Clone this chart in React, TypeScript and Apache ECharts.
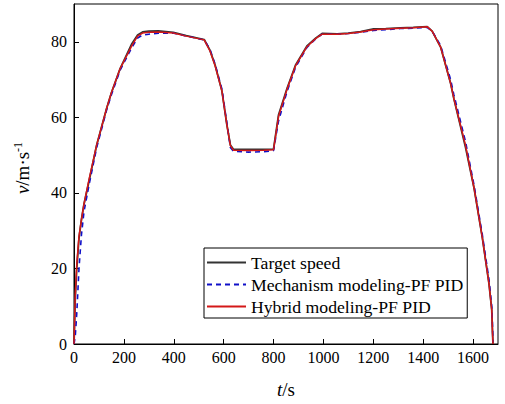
import React, { useEffect, useRef } from "react";
import * as echarts from "echarts";

const times = [0, 5, 11, 20, 30, 40, 60, 91, 131, 150, 185, 232, 255, 275, 300, 338, 398, 450, 522, 545, 566, 593, 613, 627, 640, 700, 760, 800, 820, 854, 888, 934, 970, 995, 1055, 1100, 1149, 1201, 1250, 1309, 1360, 1416, 1436, 1470, 1510, 1523, 1570, 1604, 1637, 1664, 1675, 1678, 1680];

const targetSpeed = [0, 12, 20, 28, 33, 37, 43, 52.7, 62.4, 66.5, 72.9, 79.5, 81.8, 82.6, 82.8, 82.9, 82.5, 81.6, 80.6, 77.8, 73.8, 67, 58, 52.7, 51.5, 51.5, 51.5, 51.6, 60.6, 67.6, 73.8, 78.9, 81, 82.2, 82.1, 82.3, 82.7, 83.4, 83.5, 83.7, 83.8, 84.0, 82.8, 78.6, 69, 65, 52, 41.3, 28.2, 15.9, 9, 3, 0];

const mechanismPid = [0, 2, 8, 20, 29, 35, 42, 52, 62, 66, 72.5, 78.5, 81, 81.8, 82.0, 82.3, 82.3, 81.5, 80.5, 78, 74, 67.5, 58.5, 52, 51, 50.8, 50.9, 51.2, 59, 66.8, 73.2, 78.5, 80.8, 82, 82, 82.2, 82.5, 83, 83.2, 83.5, 83.6, 83.8, 82.8, 79, 70, 66, 53.5, 42, 29, 17, 10, 5, 0.5];

const hybridPid = [0, 13, 21, 28.5, 33, 37, 43.5, 52.7, 62.4, 66.5, 72.9, 79, 81.5, 82.3, 82.5, 82.6, 82.3, 81.5, 80.5, 77.6, 73.6, 67, 58, 52.5, 51.3, 51.2, 51.3, 51.4, 60.2, 67.4, 73.6, 78.7, 80.9, 82, 82, 82.2, 82.6, 83.2, 83.4, 83.6, 83.7, 84, 82.8, 78.6, 69, 65, 52.5, 41.3, 28.2, 15.9, 9, 3, 0];

const seriesNames = ["Target speed", "Mechanism modeling-PF PID", "Hybrid modeling-PF PID"];

const FONT = "Liberation Serif";

export default function App() {
  const ref = useRef<HTMLDivElement>(null);
  useEffect(() => {
    if (!ref.current) return;
    const chart = echarts.init(ref.current, null, { renderer: "svg" });
    const pairs = (vals: number[]) => times.map((t, i) => [t, vals[i]]);
    chart.setOption({
      animation: false,
      backgroundColor: "#fff",
      textStyle: { fontFamily: FONT },
      grid: {
        left: 74,
        top: 4,
        right: 7,
        bottom: 57,
        show: true,
        borderColor: "#000",
        borderWidth: 1,
        backgroundColor: "transparent",
      },
      legend: {
        orient: "vertical",
        left: 204,
        top: 248,
        padding: [5, 4, 2, 2],
        itemGap: 3,
        itemWidth: 39,
        itemHeight: 14,
        borderColor: "#000",
        borderWidth: 1,
        backgroundColor: "#fff",
        itemStyle: { opacity: 0 },
        textStyle: { fontFamily: FONT, fontSize: 17.7, color: "#000", lineHeight: 19 },
        data: seriesNames,
      },
      xAxis: {
        type: "value",
        min: 0,
        max: 1700,
        interval: 200,
        name: "{i|t}/s",
        nameLocation: "middle",
        nameGap: 36,
        nameTextStyle: {
          fontFamily: FONT,
          fontSize: 19,
          color: "#000",
          rich: { i: { fontFamily: FONT, fontSize: 19, fontStyle: "italic", color: "#000" } },
        },
        axisLine: { show: true, lineStyle: { color: "#000", width: 1 } },
        axisTick: { show: true, inside: true, length: 5, lineStyle: { color: "#000" } },
        axisLabel: {
          fontFamily: FONT,
          fontSize: 16,
          color: "#000",
          margin: 5,
          showMaxLabel: false,
          formatter: (v: number) => String(v),
        },
        splitLine: { show: false },
      },
      yAxis: {
        type: "value",
        min: 0,
        max: 90,
        interval: 20,
        name: "{i|v}/m·s{s|-1}",
        nameLocation: "middle",
        nameGap: 41,
        nameRotate: 90,
        nameTextStyle: {
          fontFamily: FONT,
          fontSize: 19,
          color: "#000",
          padding: [0, 0, 0, 12],
          rich: {
            i: { fontFamily: FONT, fontSize: 19, fontStyle: "italic", color: "#000" },
            s: { fontFamily: FONT, fontSize: 12, color: "#000", verticalAlign: "top", padding: [0, 0, 9, 0] },
          },
        },
        axisLine: { show: true, lineStyle: { color: "#000", width: 1 } },
        axisTick: { show: true, inside: true, length: 5, lineStyle: { color: "#000" } },
        axisLabel: {
          fontFamily: FONT,
          fontSize: 16,
          color: "#000",
          margin: 7,
          showMaxLabel: false,
          formatter: (v: number) => String(v),
        },
        splitLine: { show: false },
      },
      series: [
        {
          name: seriesNames[0],
          type: "line",
          symbol: "none",
          data: pairs(targetSpeed),
          lineStyle: { color: "#333", width: 1.8 },
          itemStyle: { color: "#333" },
        },
        {
          name: seriesNames[1],
          type: "line",
          symbol: "none",
          data: pairs(mechanismPid),
          lineStyle: { color: "#1010c8", width: 1.6, type: [5, 4] },
          itemStyle: { color: "#1010c8" },
        },
        {
          name: seriesNames[2],
          type: "line",
          symbol: "none",
          data: pairs(hybridPid),
          lineStyle: { color: "#d41818", width: 1.5 },
          itemStyle: { color: "#d41818" },
        },
      ],
    });
    return () => chart.dispose();
  }, []);
  return <div ref={ref} style={{ width: 505, height: 404, position: "absolute", left: 0, top: 0 }} />;
}
